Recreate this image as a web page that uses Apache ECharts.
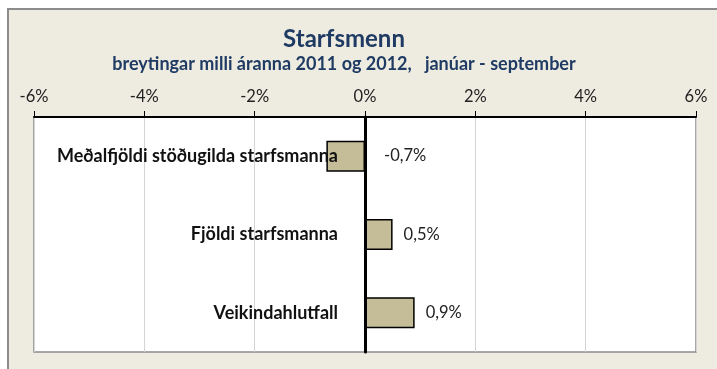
<!DOCTYPE html>
<html>
<head>
<meta charset="utf-8">
<script src="https://cdn.jsdelivr.net/npm/echarts@6/dist/echarts.min.js"></script>
<style>
  html, body { margin: 0; padding: 0; background: #ffffff; }
  #chart { width: 717px; height: 369px; }
</style>
</head>
<body>
<div id="chart"></div>
<script>
// Starfsmenn – breytingar milli áranna 2011 og 2012 (janúar - september)
const categories = ['Meðalfjöldi stöðugilda starfsmanna', 'Fjöldi starfsmanna', 'Veikindahlutfall'];
const values = [-0.7, 0.5, 0.9];
const axisMin = -6;
const axisMax = 6;
const axisStep = 2;

const FONT = 'Lato, "Open Sans", sans-serif';
const fmtPct = v => String(v).replace('.', ',') + '%';

const GRID_LEFT = 34;
const GRID_RIGHT = 21;

const chart = echarts.init(document.getElementById('chart'), null, { renderer: 'canvas' });

// the category names sit just left of the zero line, so the label margin is
// measured from the grid's left edge to that line
const plotWidth = 717 - GRID_LEFT - GRID_RIGHT;
const zeroOffset = plotWidth * (0 - axisMin) / (axisMax - axisMin);

chart.setOption({
  backgroundColor: '#ffffff',
  animation: false,
  graphic: [{
    type: 'rect',
    z: -10,
    shape: { x: 8, y: 9, width: 720, height: 370 },
    style: { fill: '#EEECE1', stroke: '#8C8C8C', lineWidth: 2 }
  }],
  title: [{
    text: 'Starfsmenn',
    left: 339,
    top: 22,
    textAlign: 'center',
    textStyle: { fontFamily: FONT, fontSize: 24, fontWeight: 'bold', color: '#1F3B63' }
  }, {
    text: 'breytingar milli áranna 2011 og 2012,   janúar - september',
    left: 339,
    top: 50,
    textAlign: 'center',
    textStyle: { fontFamily: FONT, fontSize: 18, fontWeight: 'bold', color: '#1F3B63' }
  }],
  grid: {
    left: GRID_LEFT, right: GRID_RIGHT, top: 117, bottom: 17,
    containLabel: false,
    outerBoundsMode: 'none',
    show: true,
    backgroundColor: '#ffffff',
    borderColor: '#8C8C8C',
    borderWidth: 1.5
  },
  xAxis: {
    type: 'value',
    position: 'top',
    min: axisMin,
    max: axisMax,
    interval: axisStep,
    axisLine: { show: true, onZero: false, lineStyle: { color: '#000000', width: 2 } },
    axisTick: { show: true, length: 6, lineStyle: { color: '#000000', width: 1 } },
    axisLabel: {
      fontFamily: FONT, fontSize: 16.5, color: '#222222', margin: 12,
      formatter: v => v + '%'
    },
    splitLine: { show: true, lineStyle: { color: '#D4D4D4', width: 1 } }
  },
  yAxis: {
    type: 'category',
    inverse: true,
    data: categories,
    z: 5,
    axisLine: { show: true, onZero: true, lineStyle: { color: '#000000', width: 3 } },
    axisTick: { show: false },
    axisLabel: {
      fontFamily: FONT, fontSize: 18, fontWeight: 'bold', color: '#111111',
      margin: 27 - zeroOffset
    },
    splitLine: { show: false }
  },
  series: [{
    type: 'bar',
    barWidth: 31,
    data: values.map((v, i) => ({
      value: v,
      label: { distance: i === 0 ? 19 : 11 }
    })),
    itemStyle: { color: '#C4BD97', borderColor: '#000000', borderWidth: 1.5 },
    label: {
      show: true,
      position: 'right',
      fontFamily: FONT, fontSize: 16.5, color: '#222222',
      formatter: p => fmtPct(p.value)
    }
  }]
});
</script>
</body>
</html>
